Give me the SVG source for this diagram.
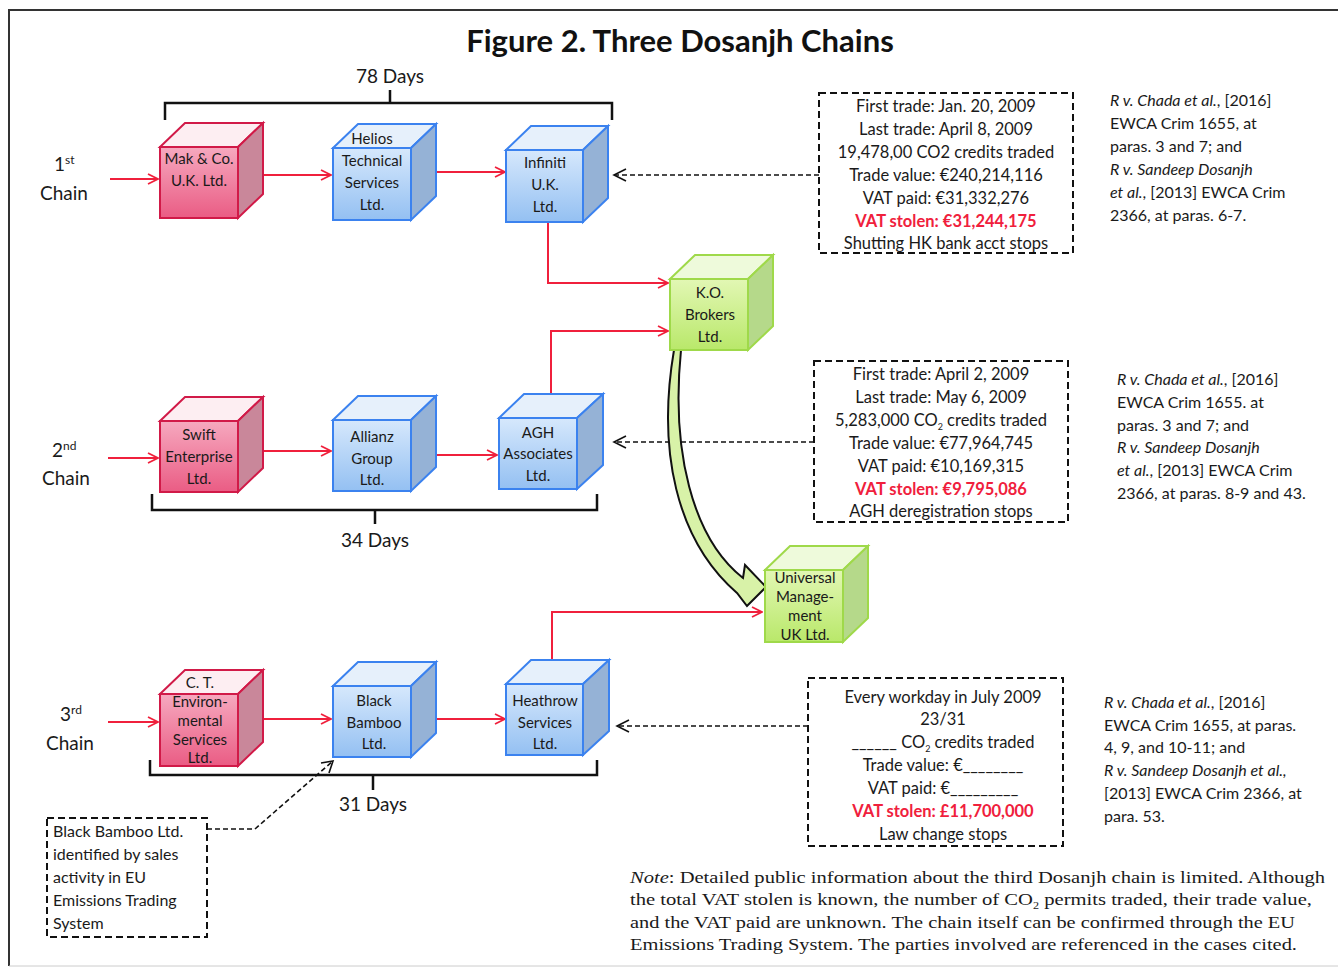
<svg xmlns="http://www.w3.org/2000/svg" width="1338" height="968" viewBox="0 0 1338 968">
<defs>
<linearGradient id="gp" x1="0" y1="0" x2="0" y2="1"><stop offset="0" stop-color="#f6a9bf"/><stop offset="1" stop-color="#ea5c84"/></linearGradient>
<linearGradient id="gb" x1="0" y1="0" x2="0" y2="1"><stop offset="0" stop-color="#d6e8fc"/><stop offset="1" stop-color="#94c0f2"/></linearGradient>
<linearGradient id="gg" x1="0" y1="0" x2="0" y2="1"><stop offset="0" stop-color="#e2f7b4"/><stop offset="1" stop-color="#b9e86a"/></linearGradient>
<marker id="ra" viewBox="0 0 12 12" refX="11" refY="6" markerWidth="12" markerHeight="12" markerUnits="userSpaceOnUse" orient="auto"><path d="M1,1 L11,6 L1,11" fill="none" stroke="#f0203c" stroke-width="1.8"/></marker>
</defs>
<style>
text{font-family:Lato,"Liberation Sans",sans-serif;fill:#1a1a1a}
.t{font-size:15px;text-anchor:middle}
.b{font-size:16.5px;text-anchor:middle}
.r{font-size:16px}
.red{fill:#f0203c;font-weight:bold}
.i{font-style:italic}
.ch{font-size:19px}
.pf{fill:url(#gp);stroke:#d11a48;stroke-width:2}
.pt{fill:#fdeef2;stroke:#d11a48;stroke-width:2}
.ps{fill:#c9879a;stroke:#d11a48;stroke-width:2}
.bf{fill:url(#gb);stroke:#3b82ef;stroke-width:2}
.bt{fill:#e6f0fb;stroke:#3b82ef;stroke-width:2}
.bs{fill:#95b2d6;stroke:#3b82ef;stroke-width:2}
.gf{fill:url(#gg);stroke:#9fd94a;stroke-width:2}
.gt{fill:#eefadb;stroke:#9fd94a;stroke-width:2}
.gs{fill:#b5d98a;stroke:#9fd94a;stroke-width:2}
.red-l{fill:none;stroke:#f0203c;stroke-width:2;marker-end:url(#ra)}
.dl{fill:none;stroke:#111;stroke-width:1.6;stroke-dasharray:5,3}
.dh{fill:none;stroke:#111;stroke-width:1.6}
.box{fill:none;stroke:#111;stroke-width:2;stroke-dasharray:7,4}
.br{fill:none;stroke:#111;stroke-width:2.5}
.note{font-family:"Liberation Serif","DejaVu Serif",serif;font-size:17px}
</style>
<rect width="1338" height="968" fill="#ffffff"/>
<path d="M9,966 V10 H1338" fill="none" stroke="#333" stroke-width="2"/>
<line x1="9" y1="966" x2="1338" y2="966" stroke="#ccc" stroke-width="1"/>

<text x="680" y="52" text-anchor="middle" font-size="31" font-weight="bold" style="fill:#111">Figure 2. Three Dosanjh Chains</text>

<g id="brackets">
<path class="br" d="M165,120 V103 H612 V120 M390,103 V90"/>
<text x="390" y="83" text-anchor="middle" font-size="19">78 Days</text>
<path class="br" d="M152,494 V510 H597 V494 M375,510 V524"/>
<text x="375" y="547" text-anchor="middle" font-size="19">34 Days</text>
<path class="br" d="M150,760 V775 H597 V760 M373,775 V790"/>
<text x="373" y="811" text-anchor="middle" font-size="19">31 Days</text>
</g>

<g id="chain-labels">
<text x="54" y="171" class="ch">1<tspan font-size="12" dy="-7">st</tspan></text>
<text x="40" y="200" class="ch">Chain</text>
<text x="52" y="457" class="ch">2<tspan font-size="12" dy="-7">nd</tspan></text>
<text x="42" y="485" class="ch">Chain</text>
<text x="60" y="721" class="ch">3<tspan font-size="12" dy="-7">rd</tspan></text>
<text x="46" y="750" class="ch">Chain</text>
</g>

<g id="connectors">
<line class="red-l" x1="110" y1="179" x2="158" y2="179"/>
<line class="red-l" x1="262" y1="175" x2="331" y2="175"/>
<line class="red-l" x1="436" y1="172" x2="505" y2="172"/>
<path class="red-l" d="M548,222 V283 H668"/>
<path class="red-l" d="M551,396 V331 H668"/>
<line class="red-l" x1="108" y1="458" x2="158" y2="458"/>
<line class="red-l" x1="263" y1="451" x2="331" y2="451"/>
<line class="red-l" x1="436" y1="455" x2="497" y2="455"/>
<line class="red-l" x1="108" y1="722" x2="158" y2="722"/>
<line class="red-l" x1="263" y1="719" x2="331" y2="719"/>
<line class="red-l" x1="436" y1="719" x2="505" y2="719"/>
<path class="red-l" d="M552,660 V612 H762"/>
<line class="dl" x1="819" y1="175" x2="614" y2="175"/>
<path class="dh" d="M626,169 L614,175 L626,181"/>
<line class="dl" x1="814" y1="442" x2="614" y2="442"/>
<path class="dh" d="M626,436 L614,442 L626,448"/>
<line class="dl" x1="808" y1="726" x2="617" y2="726"/>
<path class="dh" d="M629,720 L617,726 L629,732"/>
<path class="dl" d="M207,829 H255 L333,761"/>
<path class="dh" d="M321,763 L333,761 L329,773"/>
<path d="M674,350 C657,450 676,540 737,593 L747,606 L766,587 L745,565 L743,578 C692,538 671,450 681,350 Z" fill="#d8f2a8" stroke="#111" stroke-width="2"/>
</g>

<g id="mak"><polygon class="pt" points="160,147 185,123 263,123 238,147"/><polygon class="ps" points="238,147 263,123 263,194 238,218"/><rect class="pf" x="160" y="147" width="78" height="71"/>
<text class="t" x="199" y="164">Mak &amp; Co.</text><text class="t" x="199" y="186">U.K. Ltd.</text></g>
<g id="helios"><polygon class="bt" points="333,148 358,124 436,124 411,148"/><polygon class="bs" points="411,148 436,124 436,196 411,220"/><rect class="bf" x="333" y="148" width="78" height="72"/>
<text class="t" x="372" y="144">Helios</text><text class="t" x="372" y="166">Technical</text><text class="t" x="372" y="188">Services</text><text class="t" x="372" y="210">Ltd.</text></g>
<g id="infiniti"><polygon class="bt" points="506,150 531,126 608,126 583,150"/><polygon class="bs" points="583,150 608,126 608,198 583,222"/><rect class="bf" x="506" y="150" width="77" height="72"/>
<text class="t" x="545" y="168">Infiniti</text><text class="t" x="545" y="190">U.K.</text><text class="t" x="545" y="212">Ltd.</text></g>
<g id="ko"><polygon class="gt" points="670,279 695,255 773,255 748,279"/><polygon class="gs" points="748,279 773,255 773,326 748,350"/><rect class="gf" x="670" y="279" width="78" height="71"/>
<text class="t" x="710" y="298">K.O.</text><text class="t" x="710" y="320">Brokers</text><text class="t" x="710" y="342">Ltd.</text></g>
<g id="universal"><polygon class="gt" points="765,570 790,546 868,546 843,570"/><polygon class="gs" points="843,570 868,546 868,618 843,642"/><rect class="gf" x="765" y="570" width="78" height="72"/>
<text class="t" x="805" y="583">Universal</text><text class="t" x="805" y="602">Manage-</text><text class="t" x="805" y="621">ment</text><text class="t" x="805" y="640">UK Ltd.</text></g>
<g id="swift"><polygon class="pt" points="160,421 185,397 263,397 238,421"/><polygon class="ps" points="238,421 263,397 263,468 238,492"/><rect class="pf" x="160" y="421" width="78" height="71"/>
<text class="t" x="199" y="440">Swift</text><text class="t" x="199" y="462">Enterprise</text><text class="t" x="199" y="484">Ltd.</text></g>
<g id="allianz"><polygon class="bt" points="333,420 358,396 436,396 411,420"/><polygon class="bs" points="411,420 436,396 436,467 411,491"/><rect class="bf" x="333" y="420" width="78" height="71"/>
<text class="t" x="372" y="442">Allianz</text><text class="t" x="372" y="464">Group</text><text class="t" x="372" y="485">Ltd.</text></g>
<g id="agh"><polygon class="bt" points="499,418 524,394 603,394 577,418"/><polygon class="bs" points="577,418 603,394 603,465 577,489"/><rect class="bf" x="499" y="418" width="78" height="71"/>
<text class="t" x="538" y="438">AGH</text><text class="t" x="538" y="459">Associates</text><text class="t" x="538" y="481">Ltd.</text></g>
<g id="ct"><polygon class="pt" points="160,694 185,670 263,670 238,694"/><polygon class="ps" points="238,694 263,670 263,742 238,766"/><rect class="pf" x="160" y="694" width="78" height="72"/>
<text class="t" x="200" y="688">C. T.</text><text class="t" x="200" y="707">Environ-</text><text class="t" x="200" y="726">mental</text><text class="t" x="200" y="745">Services</text><text class="t" x="200" y="763">Ltd.</text></g>
<g id="blackbamboo"><polygon class="bt" points="333,686 358,662 436,662 411,686"/><polygon class="bs" points="411,686 436,662 436,733 411,757"/><rect class="bf" x="333" y="686" width="78" height="71"/>
<text class="t" x="374" y="706">Black</text><text class="t" x="374" y="728">Bamboo</text><text class="t" x="374" y="749">Ltd.</text></g>
<g id="heathrow"><polygon class="bt" points="506,684 531,660 609,660 583,684"/><polygon class="bs" points="583,684 609,660 609,731 583,755"/><rect class="bf" x="506" y="684" width="77" height="71"/>
<text class="t" x="545" y="706">Heathrow</text><text class="t" x="545" y="728">Services</text><text class="t" x="545" y="749">Ltd.</text></g>

<g id="box1"><rect class="box" x="819" y="93" width="254" height="160"/>
<text class="b" x="946" y="112">First trade: Jan. 20, 2009</text>
<text class="b" x="946" y="135">Last trade: April 8, 2009</text>
<text class="b" x="946" y="158">19,478,00 CO2 credits traded</text>
<text class="b" x="946" y="181">Trade value: €240,214,116</text>
<text class="b" x="946" y="204">VAT paid: €31,332,276</text>
<text class="b red" x="946" y="227">VAT stolen: €31,244,175</text>
<text class="b" x="946" y="249">Shutting HK bank acct stops</text></g>
<g id="box2"><rect class="box" x="814" y="361" width="254" height="161"/>
<text class="b" x="941" y="380">First trade: April 2, 2009</text>
<text class="b" x="941" y="403">Last trade: May 6, 2009</text>
<text class="b" x="941" y="426">5,283,000 CO<tspan font-size="9" dy="4">2</tspan><tspan dy="-4"> credits traded</tspan></text>
<text class="b" x="941" y="449">Trade value: €77,964,745</text>
<text class="b" x="941" y="472">VAT paid: €10,169,315</text>
<text class="b red" x="941" y="495">VAT stolen: €9,795,086</text>
<text class="b" x="941" y="517">AGH deregistration stops</text></g>
<g id="box3"><rect class="box" x="808" y="678" width="255" height="168"/>
<text class="b" x="943" y="703">Every workday in July 2009</text>
<text class="b" x="943" y="725">23/31</text>
<text class="b" x="943" y="748">______ CO<tspan font-size="9" dy="4">2</tspan><tspan dy="-4"> credits traded</tspan></text>
<text class="b" x="943" y="771">Trade value: €________</text>
<text class="b" x="943" y="794">VAT paid: €_________</text>
<text class="b red" x="943" y="817">VAT stolen: £11,700,000</text>
<text class="b" x="943" y="840">Law change stops</text></g>
<g id="box4"><rect class="box" x="47" y="818" width="160" height="119"/>
<text class="r" x="53" y="837">Black Bamboo Ltd.</text>
<text class="r" x="53" y="860">identified by sales</text>
<text class="r" x="53" y="883">activity in EU</text>
<text class="r" x="53" y="906">Emissions Trading</text>
<text class="r" x="53" y="929">System</text></g>

<g id="ref1">
<text class="r" x="1110" y="106"><tspan class="i">R v. Chada et al.</tspan>, [2016]</text>
<text class="r" x="1110" y="129">EWCA Crim  1655, at</text>
<text class="r" x="1110" y="152">paras. 3 and 7; and</text>
<text class="r i" x="1110" y="175">R v. Sandeep Dosanjh</text>
<text class="r" x="1110" y="198"><tspan class="i">et al.</tspan>, [2013] EWCA Crim</text>
<text class="r" x="1110" y="221">2366, at paras. 6-7.</text>
</g>
<g id="ref2">
<text class="r" x="1117" y="385"><tspan class="i">R v. Chada et al.</tspan>, [2016]</text>
<text class="r" x="1117" y="408">EWCA Crim 1655. at</text>
<text class="r" x="1117" y="431">paras. 3 and 7; and</text>
<text class="r i" x="1117" y="453">R v. Sandeep Dosanjh</text>
<text class="r" x="1117" y="476"><tspan class="i">et al.</tspan>, [2013] EWCA Crim</text>
<text class="r" x="1117" y="499">2366, at paras. 8-9 and 43.</text>
</g>
<g id="ref3">
<text class="r" x="1104" y="708"><tspan class="i">R v. Chada et al.</tspan>, [2016]</text>
<text class="r" x="1104" y="731">EWCA Crim 1655, at paras.</text>
<text class="r" x="1104" y="753">4, 9, and 10-11; and</text>
<text class="r i" x="1104" y="776">R v. Sandeep Dosanjh et al.,</text>
<text class="r" x="1104" y="799">[2013] EWCA Crim 2366, at</text>
<text class="r" x="1104" y="822">para. 53.</text>
</g>

<g id="note">
<text class="note" x="630" y="883" textLength="695" lengthAdjust="spacingAndGlyphs"><tspan font-style="italic">Note</tspan>: Detailed public information about the third Dosanjh chain is limited. Although</text>
<text class="note" x="630" y="905" textLength="682" lengthAdjust="spacingAndGlyphs">the total VAT stolen is known, the number of CO<tspan font-size="10" dy="4">2</tspan><tspan dy="-4"> permits traded, their trade value,</tspan></text>
<text class="note" x="630" y="928" textLength="665" lengthAdjust="spacingAndGlyphs">and the VAT paid are unknown. The chain itself can be confirmed through the EU</text>
<text class="note" x="630" y="950" textLength="667" lengthAdjust="spacingAndGlyphs">Emissions Trading System. The parties involved are referenced in the cases cited.</text>
</g>
</svg>
